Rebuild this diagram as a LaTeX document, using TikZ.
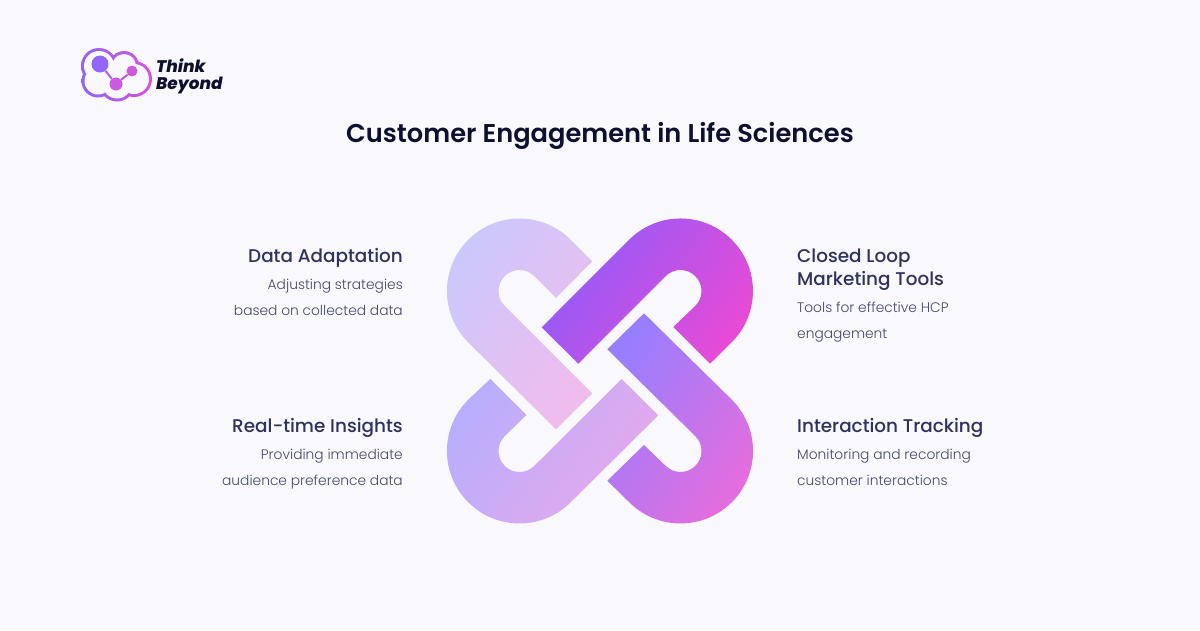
\documentclass[tikz,border=0pt]{standalone}
\usepackage{xcolor}
\usepackage{fontspec}
\usepackage{tikz}
\setmainfont{Poppins}
\newfontfamily\mediumfont{Poppins Medium}
\newfontfamily\titlefont{Poppins SemiBold}
\newfontfamily\lightfont{Poppins Light}
\newfontfamily\logofont{Poppins ExtraBold Italic}
\definecolor{pagebg}{HTML}{F8F8FD}
\definecolor{titleink}{HTML}{0E1030}
\definecolor{headink}{HTML}{2F3160}
\definecolor{descink}{HTML}{45476F}
\definecolor{logoleft}{HTML}{8C66FA}
\definecolor{logoright}{HTML}{DC50DC}
\definecolor{bigdot}{HTML}{9265F7}
\definecolor{sidedot}{HTML}{CF5ADE}
\definecolor{lowdot}{HTML}{C95BE0}
\definecolor{twigink}{HTML}{B060E8}
\definecolor{tlstart}{HTML}{CAC8FC}
\definecolor{tlend}{HTML}{F0BCEE}
\definecolor{trstart}{HTML}{8E5CFA}
\definecolor{trend}{HTML}{E84AD6}
\definecolor{blstart}{HTML}{B8AEFD}
\definecolor{blend}{HTML}{E8A8EA}
\definecolor{brstart}{HTML}{987EFE}
\definecolor{brend}{HTML}{E86CDC}
\tikzstyle{band} = [shading angle=55]
\tikzstyle{bubble} = [circle, inner sep=0pt]
\tikzstyle{twig} = [draw=twigink, line width=2pt]
\tikzstyle{headline} = [inner sep=0pt, text=headink, font=\mediumfont\fontsize{18.4}{23}\selectfont,
    execute at begin node=\strut]
\tikzstyle{blurb} = [inner sep=0pt, text=descink, font=\lightfont\fontsize{13.8}{26}\selectfont,
    execute at begin node=\strut]
\begin{document}
\begin{tikzpicture}[x=1pt,y=-1pt]
    % Page
    \useasboundingbox (0,0) rectangle (1200,630);
    \fill[pagebg] (0,0) rectangle (1200,630);
    % Logo
    \begin{scope}
        \clip (98,81) circle (16.5) (99,66) circle (18) (124,66) circle (15) (134,79) circle (18) (117,84) circle (17.5);
        \shade[left color=logoleft, right color=logoright] (78,44) rectangle (156,105);
    \end{scope}
    \fill[pagebg] (98,81) circle (13.5) (99,66) circle (15) (124,66) circle (12) (134,79) circle (15) (117,84) circle (14.5);
    \node [bubble, fill=bigdot, minimum size=17pt] (big) at (100,64) {};
    \node [bubble, fill=sidedot, minimum size=11pt] (side) at (132,71) {};
    \node [bubble, fill=lowdot, minimum size=13pt] (low) at (116,84) {};
    \draw[twig] (big) -- (low);
    \draw[twig] (low) -- (side);
    \node [anchor=west, inner sep=0pt, align=left, text=titleink, font=\logofont\fontsize{16.8}{17.5}\selectfont] (brand) at (156,76.5) {Think\\Beyond};
    % Title
    \node [text=titleink, inner sep=0pt, font=\titlefont\fontsize{25.7}{30}\selectfont] (title) at (600,135.5) {Customer Engagement in Life Sciences};
    % Links
    \shade[left color=tlstart, right color=tlend, band]
        (556,429.3) -- (468.2,342.3) arc (135:315:72.5) -- (592.3,261.3) -- (556,298) -- (534.35,276.15) arc (315:135:21) -- (592.3,393.3) -- cycle;
    \shade[left color=trstart, right color=trend, band]
        (541.7,327.3) -- (629.2,239.7) arc (225:405:72.5) -- (710,363.7) -- (673.3,327) -- (695.35,305.85) arc (45:-135:21) -- (578.3,363.7) -- cycle;
    \shade[left color=blstart, right color=blend, band]
        (490.3,379) -- (468.2,399.7) arc (225:45:72.5) -- (658.3,415.3) -- (621.7,379) -- (534.35,465.85) arc (45:225:21) -- (526.3,415) -- cycle;
    \shade[left color=brstart, right color=brend, band]
        (644,313.3) -- (731.8,399.7) arc (-45:135:72.5) -- (607.3,480.7) -- (644,445) -- (665.65,465.85) arc (135:-45:21) -- (607.3,349.3) -- cycle;
    % Labels
    \node [headline, anchor=north east] (adapt) at (403,246) {Data Adaptation};
    \node [blurb, align=right, anchor=north east] (adaptnote) at (403,279) {Adjusting strategies\\based on collected data};
    \node [headline, anchor=north east] (insight) at (403,416) {Real-time Insights};
    \node [blurb, align=right, anchor=north east] (insightnote) at (403,449) {Providing immediate\\audience preference data};
    \node [headline, align=left, anchor=north west] (loop) at (797,249) {Closed Loop\\Marketing Tools};
    \node [blurb, align=left, anchor=north west] (loopnote) at (797,302) {Tools for effective HCP\\engagement};
    \node [headline, anchor=north west] (track) at (797,416) {Interaction Tracking};
    \node [blurb, align=left, anchor=north west] (tracknote) at (797,449) {Monitoring and recording\\customer interactions};
\end{tikzpicture}
\end{document}
